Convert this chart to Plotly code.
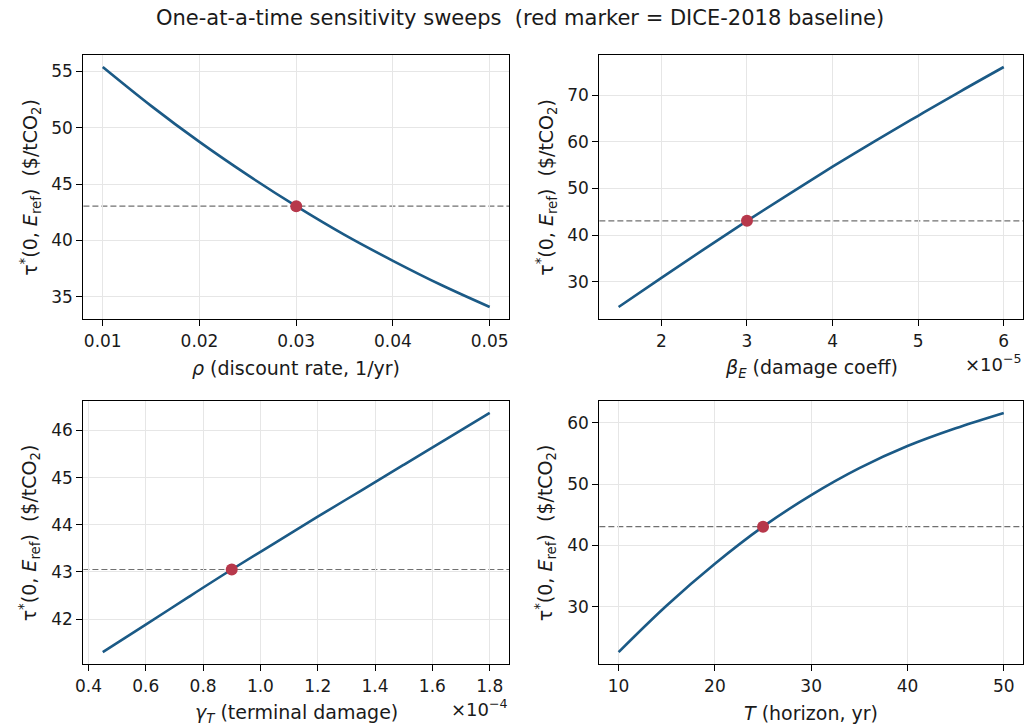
import plotly.graph_objects as go

# ---- sweep data -------------------------------------------------------------
rho = [0.010, 0.015, 0.020, 0.025, 0.030, 0.035, 0.040, 0.045, 0.050]
tau_rho = [55.4, 51.95, 48.75, 45.8, 43.05, 40.5, 38.2, 36.05, 34.1]

beta_E = [1.5e-5, 2.0e-5, 2.5e-5, 3.0e-5, 3.5e-5, 4.0e-5, 4.5e-5, 5.0e-5, 5.5e-5, 6.0e-5]
tau_beta = [24.6, 30.85, 37.0, 43.05, 48.9, 54.65, 60.2, 65.55, 70.85, 76.0]

gamma_T = [0.45e-4, 0.60e-4, 0.75e-4, 0.90e-4, 1.05e-4, 1.20e-4, 1.35e-4, 1.50e-4, 1.65e-4, 1.80e-4]
tau_gamma = [41.30, 41.88, 42.47, 43.05, 43.61, 44.17, 44.72, 45.27, 45.82, 46.37]

horizon = [10, 15, 20, 25, 30, 35, 40, 45, 50]
tau_T = [22.6, 30.2, 37.0, 43.05, 48.2, 52.6, 56.2, 59.1, 61.6]

# DICE-2018 baseline parameters and resulting tau*
rho_base, beta_base, gamma_base, T_base = 0.03, 3.0e-5, 0.9e-4, 25
tau_base = 43.05

beta_scale, gamma_scale = 1e-5, 1e-4

x_ticks = [
    [0.01, 0.02, 0.03, 0.04, 0.05],
    [2, 3, 4, 5, 6],
    [0.4, 0.6, 0.8, 1.0, 1.2, 1.4, 1.6, 1.8],
    [10, 20, 30, 40, 50],
]
x_ticktext = [
    ["0.01", "0.02", "0.03", "0.04", "0.05"],
    ["2", "3", "4", "5", "6"],
    ["0.4", "0.6", "0.8", "1.0", "1.2", "1.4", "1.6", "1.8"],
    ["10", "20", "30", "40", "50"],
]
y_ticks = [
    [35, 40, 45, 50, 55],
    [30, 40, 50, 60, 70],
    [42, 43, 44, 45, 46],
    [30, 40, 50, 60],
]
x_labels = [
    "<i>ρ</i> (discount rate, 1/yr)",
    "<i>β<sub>E</sub></i> (damage coeff)",
    "<i>γ<sub>T</sub></i> (terminal damage)",
    "<i>T</i> (horizon, yr)",
]
y_label = "τ<sup>*</sup>(0, <i>E</i><sub>ref</sub>)\u00a0\u00a0($/tCO<sub>2</sub>)"

panels = [
    (rho, tau_rho, rho_base),
    ([b / beta_scale for b in beta_E], tau_beta, beta_base / beta_scale),
    ([g / gamma_scale for g in gamma_T], tau_gamma, gamma_base / gamma_scale),
    (horizon, tau_T, T_base),
]

# ---- layout geometry (pixels in a 1025 x 727 canvas) ------------------------
W, H = 1025, 727
col_px = [(76, 505), (596, 1023)]
row_px = [(55, 319), (401, 664)]

LINE = "#1b5a86"
MARK = "#b7384b"
FONT = "DejaVu Sans"
TXT = "#1a1a1a"


def pad(lo, hi, frac=0.05):
    span = hi - lo
    return [lo - frac * span, hi + frac * span]


fig = go.Figure()
layout = dict(
    width=W, height=H,
    margin=dict(l=0, r=0, t=0, b=0),
    paper_bgcolor="white", plot_bgcolor="white",
    font=dict(family=FONT, size=17, color=TXT),
    showlegend=False,
)
annotations = []
shapes = []

for i, (xs, ys, xb) in enumerate(panels):
    r, c = divmod(i, 2)
    x0, x1 = col_px[c]
    y0, y1 = row_px[r]
    xd = [x0 / W, x1 / W]
    yd = [1 - y1 / H, 1 - y0 / H]
    n = "" if i == 0 else str(i + 1)
    xa, ya = "x" + n, "y" + n

    fig.add_trace(go.Scatter(
        x=xs, y=ys, mode="lines",
        line=dict(color=LINE, width=2.6, shape="spline", smoothing=1.0),
        xaxis=xa, yaxis=ya, hoverinfo="skip"))
    fig.add_trace(go.Scatter(
        x=[xb], y=[tau_base], mode="markers",
        marker=dict(color=MARK, size=12, line=dict(width=0)),
        xaxis=xa, yaxis=ya, hoverinfo="skip"))

    shapes.append(dict(
        type="line", xref=xa + " domain", yref=ya, x0=0, x1=1, y0=tau_base, y1=tau_base,
        line=dict(color="#707070", width=1.2, dash="6px,3px"), layer="below"))

    common = dict(
        showline=True, mirror=True, linecolor="#000000", linewidth=1.2,
        ticks="outside", ticklen=6, tickwidth=1.2, tickcolor="#000000",
        showgrid=True, gridcolor="#e6e6e6", gridwidth=1, zeroline=False,
        tickfont=dict(family=FONT, size=17, color=TXT),
    )
    layout["xaxis" + n] = dict(
        common, domain=xd, anchor=ya, range=pad(min(xs), max(xs)),
        tickmode="array", tickvals=x_ticks[i], ticktext=x_ticktext[i])
    layout["yaxis" + n] = dict(
        common, domain=yd, anchor=xa, range=pad(min(ys), max(ys)),
        tickmode="array", tickvals=y_ticks[i])

    # axis titles
    annotations.append(dict(
        text=x_labels[i], xref="paper", yref="paper",
        x=(x0 + x1) / 2 / W, y=1 - (y1 + 49) / H,
        showarrow=False, xanchor="center", yanchor="middle",
        font=dict(family=FONT, size=19, color=TXT)))
    annotations.append(dict(
        text=y_label, xref="paper", yref="paper", textangle=-90,
        x=(x0 - 54) / W, y=1 - (y0 + y1) / 2 / H,
        showarrow=False, xanchor="center", yanchor="middle",
        font=dict(family=FONT, size=19, color=TXT)))

# scale factors shown under the right end of the scaled axes
for (i, expo) in [(1, "−5"), (2, "−4")]:
    r, c = divmod(i, 2)
    x1 = col_px[c][1]
    y1 = row_px[r][1]
    annotations.append(dict(
        text="×10<sup>" + expo + "</sup>", xref="paper", yref="paper",
        x=(x1 + 1) / W, y=1 - (y1 + 44) / H,
        showarrow=False, xanchor="right", yanchor="middle",
        font=dict(family=FONT, size=18, color=TXT)))

annotations.append(dict(
    text="One-at-a-time sensitivity sweeps\u00a0\u00a0(red marker = DICE-2018 baseline)",
    xref="paper", yref="paper", x=516 / W, y=1 - 18 / H,
    showarrow=False, xanchor="center", yanchor="middle",
    font=dict(family=FONT, size=21, color=TXT)))

layout["annotations"] = annotations
layout["shapes"] = shapes
fig.update_layout(**layout)

fig.write_html("out.html")
